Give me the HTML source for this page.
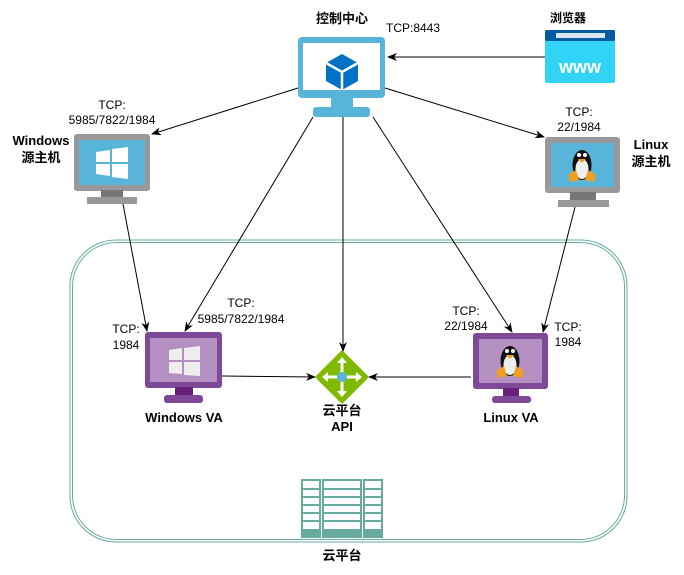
<!DOCTYPE html>
<html><head><meta charset="utf-8"><style>
html,body{margin:0;padding:0;background:#fff;}
svg{display:block;}
text{font-family:"Liberation Sans","Noto Sans CJK SC",sans-serif;font-size:12px;fill:#000;}
.b{font-weight:bold;font-size:13px;}
</style></head><body>
<svg width="684" height="575" viewBox="0 0 684 575" xmlns="http://www.w3.org/2000/svg">
<defs>
<marker id="a" markerWidth="10" markerHeight="8" refX="9" refY="4" orient="auto" markerUnits="userSpaceOnUse">
<path d="M0,0 L10,4 L0,8 L3,4 Z" fill="#000"/></marker>
<g id="tux">
<ellipse cx="0" cy="2" rx="9.5" ry="15" fill="#111"/>
<ellipse cx="0" cy="6" rx="6.5" ry="10" fill="#eee"/>
<circle cx="-3" cy="-8" r="2" fill="#fff"/><circle cx="3" cy="-8" r="2" fill="#fff"/>
<path d="M-4,-4 L4,-4 L0,0 Z" fill="#f0a020"/>
<path d="M-14,12 L-6,7 L-3,17 L-12,19 Z" fill="#f0a020"/>
<path d="M14,12 L6,7 L3,17 L12,19 Z" fill="#f0a020"/>
</g>
</defs>
<rect x="70" y="240" width="557" height="302" rx="46" fill="none" stroke="#67AB9F" stroke-width="1"/>
<rect x="72.5" y="242.5" width="552" height="297" rx="44" fill="none" stroke="#67AB9F" stroke-width="1"/>

<rect x="298" y="37" width="87" height="61" rx="4" fill="#59B4D9"/>
<rect x="303" y="43" width="77" height="47" fill="#fff"/>
<rect x="331" y="97" width="22" height="11" fill="#59B4D9"/>
<rect x="313" y="107" width="57" height="10" rx="3" fill="#59B4D9"/>
<path d="M342,54 L358,63 L358,81 L342,90 L326,81 L326,63 Z" fill="#0072C6"/>
<path d="M326,63 L342,72 L358,63 M342,72 L342,90" stroke="#fff" stroke-width="2.5" fill="none"/>
<text x="342" y="23" class="b" text-anchor="middle">控制中心</text>
<text x="386" y="32">TCP:8443</text>

<rect x="545" y="30" width="70" height="53" rx="2" fill="#32D4F5"/>
<rect x="545" y="30" width="70" height="11" rx="2" fill="#005BA1"/>
<rect x="556" y="33" width="49" height="5" fill="#fff" opacity="0.85"/>
<text x="580" y="73" text-anchor="middle" style="font-size:18px;font-weight:bold;fill:#fff">www</text>
<text x="550" y="22" class="b" style="font-size:12px">浏览器</text>

<rect x="74" y="134" width="76" height="57" rx="3" fill="#999"/>
<rect x="79" y="140" width="66" height="45" fill="#59B4D9"/>
<rect x="101" y="190" width="22" height="8" fill="#767676"/>
<rect x="87" y="197" width="50" height="7" fill="#999"/>
<g fill="#fff"><path d="M96,152 L110,150 L110,162 L96,162 Z"/><path d="M112,149 L128,147 L128,162 L112,162 Z"/><path d="M96,164 L110,164 L110,176 L96,174 Z"/><path d="M112,164 L128,164 L128,179 L112,177 Z"/></g>
<text x="41" y="145" class="b" text-anchor="middle">Windows</text>
<text x="41" y="162" class="b" text-anchor="middle">源主机</text>
<text x="112" y="109" text-anchor="middle">TCP:</text>
<text x="112" y="124" text-anchor="middle">5985/7822/1984</text>

<rect x="545" y="137" width="75" height="56" rx="3" fill="#999"/>
<rect x="551" y="143" width="63" height="44" fill="#59B4D9"/>
<rect x="570" y="192" width="26" height="8" fill="#767676"/>
<rect x="558" y="200" width="51" height="7" fill="#999"/>
<use href="#tux" x="582" y="163"/>
<text x="651" y="149" class="b" text-anchor="middle">Linux</text>
<text x="651" y="166" class="b" text-anchor="middle">源主机</text>
<text x="579" y="116" text-anchor="middle">TCP:</text>
<text x="579" y="131" text-anchor="middle">22/1984</text>

<rect x="145" y="332" width="77" height="56" rx="3" fill="#804998"/>
<rect x="150" y="338" width="67" height="44" fill="#B490C2"/>
<rect x="175" y="387" width="18" height="9" fill="#68217A"/>
<rect x="164" y="395" width="39" height="8" rx="3" fill="#804998"/>
<g fill="#eee"><path d="M169,350 L182,348 L182,360 L169,360 Z"/><path d="M184,348 L200,346 L200,360 L184,360 Z"/><path d="M169,362 L182,362 L182,374 L169,373 Z"/><path d="M184,362 L200,362 L200,376 L184,375 Z"/></g>
<text x="184" y="422" class="b" text-anchor="middle">Windows VA</text>
<text x="126" y="333" text-anchor="middle">TCP:</text>
<text x="126" y="349" text-anchor="middle">1984</text>
<text x="241" y="307" text-anchor="middle">TCP:</text>
<text x="241" y="323" text-anchor="middle">5985/7822/1984</text>

<rect x="473" y="333" width="75" height="56" rx="3" fill="#804998"/>
<rect x="479" y="339" width="63" height="44" fill="#B490C2"/>
<rect x="503" y="388" width="16" height="8" fill="#68217A"/>
<rect x="492" y="396" width="39" height="7" rx="3" fill="#804998"/>
<use href="#tux" x="510" y="359"/>
<text x="511" y="422" class="b" text-anchor="middle">Linux VA</text>
<text x="466" y="315" text-anchor="middle">TCP:</text>
<text x="466" y="330" text-anchor="middle">22/1984</text>
<text x="568" y="331" text-anchor="middle">TCP:</text>
<text x="568" y="346" text-anchor="middle">1984</text>

<path d="M342,352 L367,377 L342,402 L317,377 Z" fill="#7FBA00" stroke="#7FBA00" stroke-linejoin="round" stroke-width="3"/>
<g stroke="#fff" stroke-width="3" fill="#fff">
<line x1="326" y1="377" x2="358" y2="377"/><line x1="342" y1="361" x2="342" y2="393"/></g>
<g fill="#fff"><path d="M322,377 L328,372 L328,382 Z"/><path d="M362,377 L356,372 L356,382 Z"/><path d="M342,357 L337,363 L347,363 Z"/><path d="M342,397 L337,391 L347,391 Z"/></g>
<circle cx="342" cy="377" r="5" fill="#59B4D9"/>
<text x="342" y="415" class="b" text-anchor="middle">云平台</text>
<text x="342" y="431" class="b" text-anchor="middle">API</text>

<g fill="none" stroke="#67AB9F" stroke-width="2">
<rect x="302" y="480" width="18" height="50"/><rect x="323" y="480" width="38" height="50"/><rect x="364" y="480" width="18" height="50"/>
<path d="M302,489 H320 M302,497 H320 M302,505 H320 M302,513 H320 M302,521 H320"/>
<path d="M323,489 H361 M323,497 H361 M323,505 H361 M323,513 H361 M323,521 H361"/>
<path d="M364,489 H382 M364,497 H382 M364,505 H382 M364,513 H382 M364,521 H382"/>
</g>
<g fill="#67AB9F"><rect x="301" y="531" width="20" height="7"/><rect x="322" y="531" width="40" height="7"/><rect x="363" y="531" width="20" height="7"/></g>
<text x="342" y="560" class="b" text-anchor="middle">云平台</text>

<g stroke="#000" stroke-width="1" fill="none" marker-end="url(#a)">
<line x1="545" y1="57" x2="388" y2="57"/>
<line x1="298" y1="88" x2="152" y2="134"/>
<line x1="385" y1="88" x2="544" y2="137"/>
<line x1="313" y1="117" x2="185" y2="331"/>
<line x1="343" y1="117" x2="343" y2="351"/>
<line x1="373" y1="117" x2="512" y2="332"/>
<line x1="123" y1="204" x2="147" y2="331"/>
<line x1="575" y1="207" x2="543" y2="332"/>
<line x1="222" y1="376" x2="315" y2="377"/>
<line x1="471" y1="377" x2="369" y2="377"/>
</g>
</svg>
</body></html>
